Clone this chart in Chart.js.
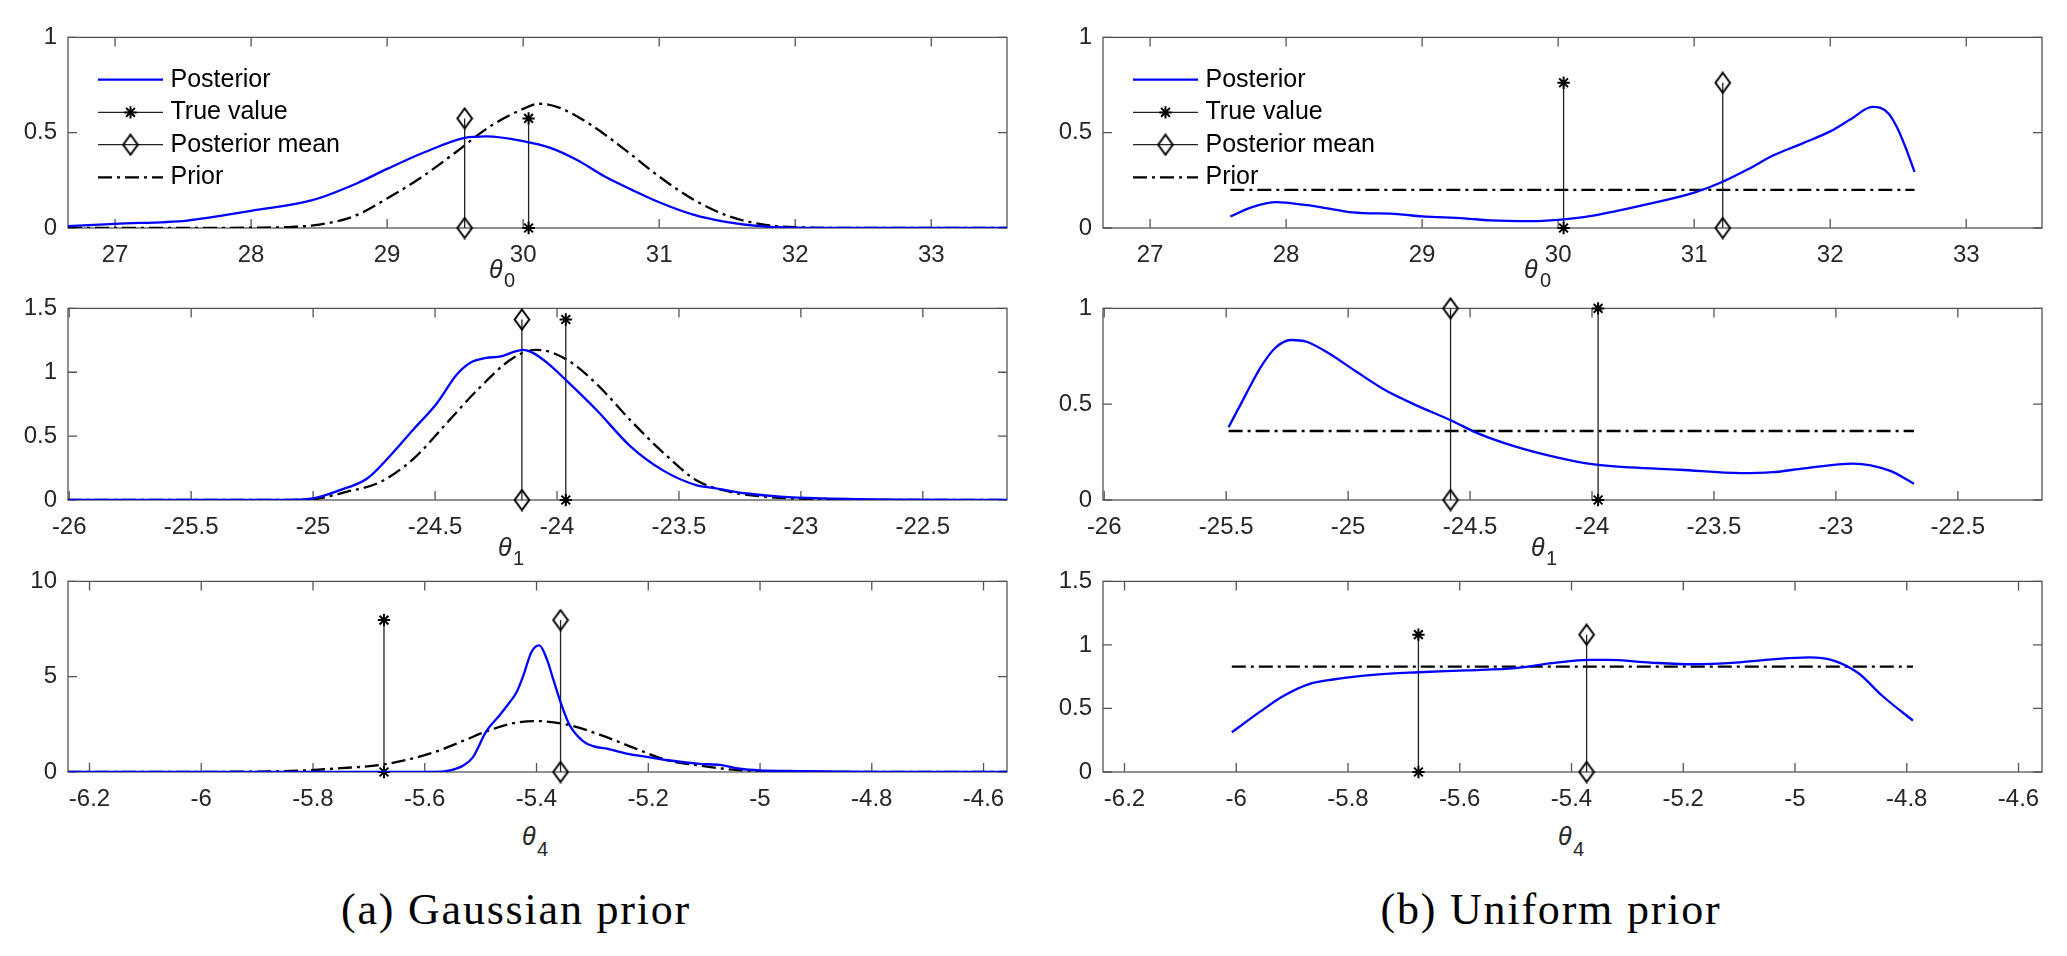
<!DOCTYPE html>
<html><head><meta charset="utf-8">
<script src="https://cdn.jsdelivr.net/npm/chart.js@4.4.1/dist/chart.umd.min.js"></script>
<style>
html,body{margin:0;padding:0;background:#fff;}
body{width:2067px;height:956px;overflow:hidden;position:relative;}
canvas{position:absolute;}
.th{position:absolute;font-family:"Liberation Sans",Arial,sans-serif;font-style:italic;font-size:25px;line-height:1;color:#262626;white-space:nowrap;}
.sb{position:absolute;font-family:"Liberation Sans",Arial,sans-serif;font-size:20px;line-height:1;color:#262626;white-space:nowrap;}
.cap{position:absolute;font-family:"Liberation Serif","Times New Roman",serif;font-size:44px;letter-spacing:1.8px;line-height:1;color:#000;white-space:nowrap;transform:translateX(-50%);}
</style></head>
<body>
<canvas id="a1"></canvas><canvas id="a2"></canvas><canvas id="a3"></canvas>
<canvas id="b1"></canvas><canvas id="b2"></canvas><canvas id="b3"></canvas>

<div class="th" style="left:489px;top:257px">θ</div><div class="sb" style="left:504px;top:270px">0</div>
<div class="th" style="left:1524px;top:257px">θ</div><div class="sb" style="left:1540px;top:270px">0</div>
<div class="th" style="left:498px;top:535px">θ</div><div class="sb" style="left:513px;top:548px">1</div>
<div class="th" style="left:1531px;top:535px">θ</div><div class="sb" style="left:1546px;top:548px">1</div>
<div class="th" style="left:522px;top:824px">θ</div><div class="sb" style="left:537px;top:839px">4</div>
<div class="th" style="left:1558px;top:824px">θ</div><div class="sb" style="left:1573px;top:839px">4</div>

<div class="cap" style="left:516px;top:888px">(a) Gaussian prior</div>
<div class="cap" style="left:1551px;top:888px">(b) Uniform prior</div>

<script>
// ---------- DATA ----------
const legendLabels = ['Posterior', 'True value', 'Posterior mean', 'Prior'];

// (a) Gaussian prior, theta0
const a1PostX  = [26.654, 27.0, 27.53, 28.0, 28.45, 28.78, 29.0, 29.27, 29.57, 29.73, 30.0, 30.2, 30.4, 30.6, 30.8, 31.0, 31.25, 31.5, 31.74, 32.0, 32.5, 33.557];
const a1PostY  = [0.010, 0.022, 0.039, 0.09, 0.146, 0.235, 0.31, 0.396, 0.473, 0.481, 0.456, 0.42, 0.355, 0.27, 0.2, 0.135, 0.07, 0.031, 0.01, 0.002, 0.0, 0.0];
const a1PriorX = [26.654, 27.5, 28.0, 28.3, 28.5, 28.75, 29.0, 29.25, 29.5, 29.75, 30.0, 30.12, 30.27, 30.5, 30.75, 31.0, 31.25, 31.5, 31.75, 32.0, 32.5, 33.557];
const a1PriorY = [0, 0, 0.002, 0.006, 0.018, 0.06, 0.155, 0.265, 0.395, 0.53, 0.625, 0.652, 0.63, 0.54, 0.41, 0.27, 0.15, 0.065, 0.02, 0.004, 0, 0];
const a1Stems  = [30.04, 29.57, 0.575];   // true value, posterior mean, stem height
const a1XTicks = [27, 28, 29, 30, 31, 32, 33];
const a1YTicks = [0, 0.5, 1];

// (a) theta1
const a2PostX  = [-26.005, -25.5, -25.137, -25.0, -24.89, -24.78, -24.685, -24.59, -24.494, -24.41, -24.357, -24.29, -24.23, -24.18, -24.14, -24.097, -24.04, -23.96, -23.837, -23.7, -23.564, -23.427, -23.36, -23.22, -23.085, -22.9, -22.6, -22.155];
const a2PostY  = [0, 0, 0, 0.013, 0.077, 0.166, 0.345, 0.55, 0.754, 0.984, 1.073, 1.112, 1.124, 1.158, 1.176, 1.15, 1.073, 0.933, 0.703, 0.422, 0.23, 0.115, 0.095, 0.051, 0.026, 0.012, 0.003, 0];
const a2PriorX = [-26.005, -25.2, -25.0, -24.863, -24.726, -24.59, -24.453, -24.316, -24.18, -24.083, -23.96, -23.837, -23.7, -23.564, -23.427, -23.29, -23.153, -23.0, -22.7, -22.155];
const a2PriorY = [0, 0, 0.008, 0.064, 0.14, 0.32, 0.6, 0.882, 1.112, 1.176, 1.099, 0.907, 0.626, 0.37, 0.153, 0.064, 0.026, 0.01, 0.001, 0];
const a2Stems  = [-23.964, -24.144, 1.413];
const a2XTicks = [-26, -25.5, -25, -24.5, -24, -23.5, -23, -22.5];
const a2YTicks = [0, 0.5, 1, 1.5];

// (a) theta4
const a3PostX  = [-6.2385, -5.6, -5.585, -5.555, -5.531, -5.514, -5.49, -5.466, -5.448, -5.436, -5.424, -5.409, -5.395, -5.382, -5.37, -5.355, -5.341, -5.317, -5.299, -5.269, -5.239, -5.197, -5.168, -5.108, -5.072, -5.036, -5.0, -4.929, -4.8, -4.558];
const a3PostY  = [0, 0, 0, 0.085, 0.34, 0.77, 2.13, 2.98, 3.66, 4.17, 5.03, 6.3, 6.64, 5.96, 4.86, 3.49, 2.47, 1.62, 1.36, 1.19, 0.97, 0.77, 0.63, 0.43, 0.37, 0.17, 0.085, 0.05, 0.01, 0];
const a3PriorX = [-6.2385, -5.9, -5.82, -5.75, -5.675, -5.585, -5.526, -5.49, -5.442, -5.4, -5.347, -5.287, -5.227, -5.168, -5.108, -5.048, -4.988, -4.9, -4.558];
const a3PriorY = [0, 0.02, 0.08, 0.2, 0.39, 1.02, 1.7, 2.13, 2.56, 2.67, 2.5, 1.96, 1.28, 0.63, 0.34, 0.12, 0.03, 0.005, 0];
const a3Stems  = [-5.673, -5.357, 7.97];
const a3XTicks = [-6.2, -6, -5.8, -5.6, -5.4, -5.2, -5, -4.8, -4.6];
const a3YTicks = [0, 5, 10];

// (b) Uniform prior, theta0
const b1PostX  = [27.59, 27.75, 27.93, 28.0, 28.25, 28.49, 28.82, 29.0, 29.31, 29.5, 29.8, 30.0, 30.2, 30.4, 30.65, 31.0, 31.21, 31.4, 31.58, 31.8, 32.0, 32.15, 32.31, 32.37, 32.43, 32.49, 32.55, 32.62];
const b1PostY  = [0.06, 0.11, 0.136, 0.133, 0.11, 0.082, 0.073, 0.061, 0.051, 0.04, 0.036, 0.043, 0.058, 0.085, 0.124, 0.186, 0.243, 0.31, 0.38, 0.445, 0.507, 0.57, 0.635, 0.63, 0.6, 0.53, 0.43, 0.294];
const b1PriorX = [27.59, 32.62];
const b1PriorY = [0.2, 0.2];
const b1Stems  = [30.04, 31.21, 0.762];

// (b) theta1
const b2PostX  = [-25.49, -25.425, -25.36, -25.3, -25.235, -25.17, -25.07, -24.97, -24.845, -24.72, -24.575, -24.47, -24.32, -24.14, -24.0, -23.84, -23.64, -23.39, -23.26, -23.13, -22.93, -22.78, -22.68];
const b2PostY  = [0.38, 0.537, 0.69, 0.792, 0.835, 0.826, 0.758, 0.673, 0.571, 0.494, 0.414, 0.349, 0.281, 0.221, 0.187, 0.17, 0.158, 0.14, 0.145, 0.165, 0.19, 0.153, 0.085];
const b2PriorX = [-25.49, -22.68];
const b2PriorY = [0.36, 0.36];
const b2Stems  = [-23.975, -24.58, 1.0];
const b2YTicks = [0, 0.5, 1];

// (b) theta4
const b3PostX  = [-6.008, -5.958, -5.915, -5.871, -5.827, -5.75, -5.674, -5.587, -5.5, -5.434, -5.368, -5.335, -5.259, -5.182, -5.106, -5.04, -4.975, -4.931, -4.887, -4.844, -4.789];
const b3PostY  = [0.312, 0.473, 0.6, 0.69, 0.728, 0.767, 0.785, 0.8, 0.818, 0.856, 0.882, 0.882, 0.861, 0.848, 0.861, 0.887, 0.902, 0.877, 0.779, 0.6, 0.404];
const b3PriorX = [-6.008, -4.789];
const b3PriorY = [0.83, 0.83];
const b3Stems  = [-5.674, -5.373, 1.081];
const b3YTicks = [0, 0.5, 1, 1.5];

// ---------- STYLE / LAYOUT ----------
const FONT = '"Liberation Sans", Arial, sans-serif';
const DASH = [14, 5, 3, 5];
const PT = 20, PR = 24, YW = 64, XH = 40;
const COLS = [[68, 1007], [1103, 2042]];
const ROWS = [[32, 228], [303, 500], [576, 772]];

Chart.defaults.font.family = FONT;
Chart.defaults.font.size = 24;
Chart.defaults.color = '#262626';

function makeDiamond() {
  const c = document.createElement('canvas');
  c.width = 18; c.height = 23;
  const g = c.getContext('2d');
  g.strokeStyle = '#000'; g.lineWidth = 2;
  g.beginPath();
  g.moveTo(9, 1.5); g.lineTo(16.3, 11.5); g.lineTo(9, 21.5); g.lineTo(1.7, 11.5);
  g.closePath(); g.stroke();
  return c;
}
const DIAMOND = makeDiamond();

function drawStar(ctx, x, y, r) {
  ctx.save();
  ctx.strokeStyle = '#000'; ctx.lineWidth = 2; ctx.setLineDash([]);
  ctx.beginPath();
  for (let k = 0; k < 4; k++) {
    const a = k * Math.PI / 4;
    ctx.moveTo(x - r * Math.cos(a), y - r * Math.sin(a));
    ctx.lineTo(x + r * Math.cos(a), y + r * Math.sin(a));
  }
  ctx.stroke();
  ctx.restore();
}

const boxPlugin = {
  id: 'mbox',
  beforeDatasetsDraw(chart) {
    const {ctx, chartArea: a, scales: {x, y}} = chart;
    const TL = 9;
    ctx.save();
    ctx.strokeStyle = '#555'; ctx.lineWidth = 1.3; ctx.setLineDash([]);
    ctx.strokeRect(a.left, a.top, a.right - a.left, a.bottom - a.top);
    ctx.beginPath();
    x.ticks.forEach(t => {
      const p = x.getPixelForValue(t.value);
      ctx.moveTo(p, a.bottom); ctx.lineTo(p, a.bottom - TL);
      ctx.moveTo(p, a.top); ctx.lineTo(p, a.top + TL);
    });
    y.ticks.forEach(t => {
      const p = y.getPixelForValue(t.value);
      ctx.moveTo(a.left, p); ctx.lineTo(a.left + TL, p);
      ctx.moveTo(a.right, p); ctx.lineTo(a.right - TL, p);
    });
    ctx.stroke();
    ctx.restore();
  }
};

const legendPlugin = {
  id: 'mlegend',
  afterDatasetsDraw(chart, args, opts) {
    if (!opts || !opts.show) return;
    const {ctx, chartArea: a} = chart;
    const rows = [42.3, 75, 107.3, 140];
    const x0 = a.left + 30, x1 = a.left + 95, xm = (x0 + x1) / 2, xt = a.left + 102.5;
    ctx.save();
    legendLabels.forEach((lab, i) => {
      const yy = a.top + rows[i];
      ctx.beginPath();
      if (i === 0) { ctx.strokeStyle = '#0000ff'; ctx.lineWidth = 2.3; ctx.setLineDash([]); }
      else if (i === 3) { ctx.strokeStyle = '#000'; ctx.lineWidth = 2.3; ctx.setLineDash(DASH); }
      else { ctx.strokeStyle = '#222'; ctx.lineWidth = 1.3; ctx.setLineDash([]); }
      ctx.moveTo(x0, yy); ctx.lineTo(x1, yy); ctx.stroke();
      ctx.setLineDash([]);
      if (i === 1) drawStar(ctx, xm, yy, 6.2);
      if (i === 2) ctx.drawImage(DIAMOND, xm - DIAMOND.width / 2, yy - DIAMOND.height / 2);
      ctx.font = '25px ' + FONT;
      ctx.fillStyle = '#000';
      ctx.textBaseline = 'middle';
      ctx.textAlign = 'left';
      ctx.fillText(lab, xt, yy);
    });
    ctx.restore();
  }
};

function pts(xs, ys) { return xs.map((x, i) => ({x: x, y: ys[i]})); }

function makeChart(id, col, row, c) {
  const cv = document.getElementById(id);
  const [L, R] = COLS[col], [T, B] = ROWS[row];
  const w = (R - L) + YW + PR, h = (B - T) + PT + XH;
  cv.width = w; cv.height = h;
  cv.style.left = (L - YW) + 'px'; cv.style.top = (T - PT) + 'px';
  cv.style.width = w + 'px'; cv.style.height = h + 'px';
  const stem = (xv, style) => ({
    data: [{x: xv, y: 0}, {x: xv, y: c.stems[2]}],
    borderColor: '#222', borderWidth: 1.3, tension: 0,
    pointStyle: style, pointRadius: 6.2, pointBorderColor: '#000', pointBorderWidth: 2,
    pointBackgroundColor: 'rgba(0,0,0,0)', clip: false
  });
  return new Chart(cv, {
    type: 'line',
    data: {datasets: [
      {data: pts(c.postX, c.postY), borderColor: '#0000ff', borderWidth: 2.3, pointRadius: 0, cubicInterpolationMode: 'monotone', fill: false},
      stem(c.stems[0], 'star'),
      stem(c.stems[1], DIAMOND),
      {data: pts(c.priorX, c.priorY), borderColor: '#000', borderWidth: 2.3, borderDash: DASH, pointRadius: 0, cubicInterpolationMode: 'monotone', fill: false}
    ]},
    options: {
      responsive: false, animation: false, events: [],
      layout: {padding: {left: 0, top: PT, right: PR, bottom: 0}},
      plugins: {legend: {display: false}, tooltip: {enabled: false}, mlegend: {show: !!c.legend}},
      scales: {
        x: {
          type: 'linear', min: c.xmin, max: c.xmax,
          grid: {display: false, drawTicks: false}, border: {display: false},
          afterBuildTicks: s => { s.ticks = c.xTicks.map(v => ({value: v})); },
          afterFit: s => { s.height = XH; },
          ticks: {padding: 13, maxRotation: 0, autoSkip: false, color: '#262626', callback: v => String(v)}
        },
        y: {
          type: 'linear', min: c.yTicks[0], max: c.yTicks[c.yTicks.length - 1],
          grid: {display: false, drawTicks: false}, border: {display: false},
          afterBuildTicks: s => { s.ticks = c.yTicks.map(v => ({value: v})); },
          afterFit: s => { s.width = YW; },
          ticks: {padding: 11, autoSkip: false, color: '#262626', callback: v => String(v)}
        }
      }
    },
    plugins: [boxPlugin, legendPlugin]
  });
}

makeChart('a1', 0, 0, {postX: a1PostX, postY: a1PostY, priorX: a1PriorX, priorY: a1PriorY, stems: a1Stems, xmin: 26.654, xmax: 33.557, xTicks: a1XTicks, yTicks: a1YTicks, legend: true});
makeChart('a2', 0, 1, {postX: a2PostX, postY: a2PostY, priorX: a2PriorX, priorY: a2PriorY, stems: a2Stems, xmin: -26.005, xmax: -22.155, xTicks: a2XTicks, yTicks: a2YTicks});
makeChart('a3', 0, 2, {postX: a3PostX, postY: a3PostY, priorX: a3PriorX, priorY: a3PriorY, stems: a3Stems, xmin: -6.2385, xmax: -4.558, xTicks: a3XTicks, yTicks: a3YTicks});
makeChart('b1', 1, 0, {postX: b1PostX, postY: b1PostY, priorX: b1PriorX, priorY: b1PriorY, stems: b1Stems, xmin: 26.654, xmax: 33.557, xTicks: a1XTicks, yTicks: a1YTicks, legend: true});
makeChart('b2', 1, 1, {postX: b2PostX, postY: b2PostY, priorX: b2PriorX, priorY: b2PriorY, stems: b2Stems, xmin: -26.005, xmax: -22.155, xTicks: a2XTicks, yTicks: b2YTicks});
makeChart('b3', 1, 2, {postX: b3PostX, postY: b3PostY, priorX: b3PriorX, priorY: b3PriorY, stems: b3Stems, xmin: -6.2385, xmax: -4.558, xTicks: a3XTicks, yTicks: b3YTicks});
</script>
</body></html>
